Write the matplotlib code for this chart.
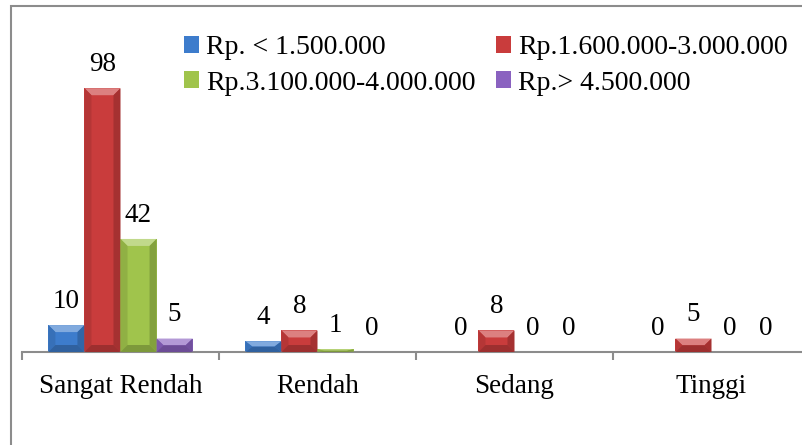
import matplotlib.pyplot as plt
from matplotlib.patches import Polygon, Rectangle
from matplotlib.colors import to_rgb
import numpy as np

plt.rcParams['font.family'] = ['Liberation Serif', 'DejaVu Serif']

categories = ['Sangat Rendah', 'Rendah', 'Sedang', 'Tinggi']
series_names = ['Rp. < 1.500.000', 'Rp.1.600.000-3.000.000',
                'Rp.3.100.000-4.000.000', 'Rp.> 4.500.000']
values = [
    [10, 4, 0, 0],
    [98, 8, 8, 5],
    [42, 1, 0, 0],
    [5, 0, 0, 0],
]
colors = ['#3d7ccc', '#c93c3c', '#a0c44c', '#8a62c0']


def shade(c, f):
    r = np.array(to_rgb(c))
    if f > 0:
        return tuple(r + (1 - r) * f)
    return tuple(r * (1 + f))


def bevel(ax, x0, w, h, c, bx, by):
    # soft beveled edges on a bar, like the office chart style
    if h <= 0:
        return
    b = min(by, h / 2)
    x1 = x0 + w
    faces = [
        ([(x0, h), (x1, h), (x1 - bx, h - b), (x0 + bx, h - b)], 0.35),
        ([(x0, 0), (x0, h), (x0 + bx, h - b), (x0 + bx, b)], -0.10),
        ([(x1, 0), (x1, h), (x1 - bx, h - b), (x1 - bx, b)], -0.18),
        ([(x0, 0), (x1, 0), (x1 - bx, b), (x0 + bx, b)], -0.22),
    ]
    for pts, f in faces:
        ax.add_patch(Polygon(pts, closed=True, facecolor=shade(c, f),
                             edgecolor='none', zorder=3))


fig = plt.figure(figsize=(8.03, 4.45), dpi=100)
W, H = 803, 445
ax = fig.add_axes([22 / W, 93 / H, 788 / W, 323 / H])
ax.set_xlim(-0.5, 3.5)
ax.set_ylim(0, 120)

x = np.arange(len(categories))
bw = 0.183
bx = 7 / 197
by = 7 * 120 / 323
for i, (vals, col) in enumerate(zip(values, colors)):
    xs = x + (i - 1.5) * bw
    ax.bar(xs, vals, width=bw, color=col, zorder=2, label=series_names[i])
    for xi, v in zip(xs, vals):
        bevel(ax, xi - bw / 2, bw, v, col, bx, by)
        ax.annotate(str(v), (xi, v), xytext=(0, 8), textcoords='offset points',
                    ha='center', va='bottom', fontsize=19.5)

for s in ['top', 'right', 'left']:
    ax.spines[s].set_visible(False)
ax.spines['bottom'].set_color('#8c8c8c')
ax.spines['bottom'].set_linewidth(1.5)
ax.set_yticks([])
ax.set_xticks(x)
ax.set_xticklabels(categories, fontsize=19.5)
ax.tick_params(axis='x', which='major', length=0, pad=16)
ax.set_xticks(np.arange(-0.5, 4, 1), minor=True)
ax.tick_params(axis='x', which='minor', length=6, width=1.5, color='#8c8c8c')

h, l = ax.get_legend_handles_labels()
order = [0, 2, 1, 3]
fig.legend([h[k] for k in order], [l[k] for k in order], ncol=2,
           loc='upper left', bbox_to_anchor=(184 / W, 1 - 35 / H),
           frameon=False, fontsize=20, handlelength=0.55, handleheight=0.55,
           handletextpad=0.25, columnspacing=0.73, labelspacing=0.38,
           borderpad=0, borderaxespad=0)

fig.add_artist(Rectangle((11 / W, -0.1), 1.2, (445 - 6) / H + 0.1,
                         transform=fig.transFigure, fill=False,
                         edgecolor='#8c8c8c', linewidth=1.5))

fig.savefig('out.png', dpi=100)
